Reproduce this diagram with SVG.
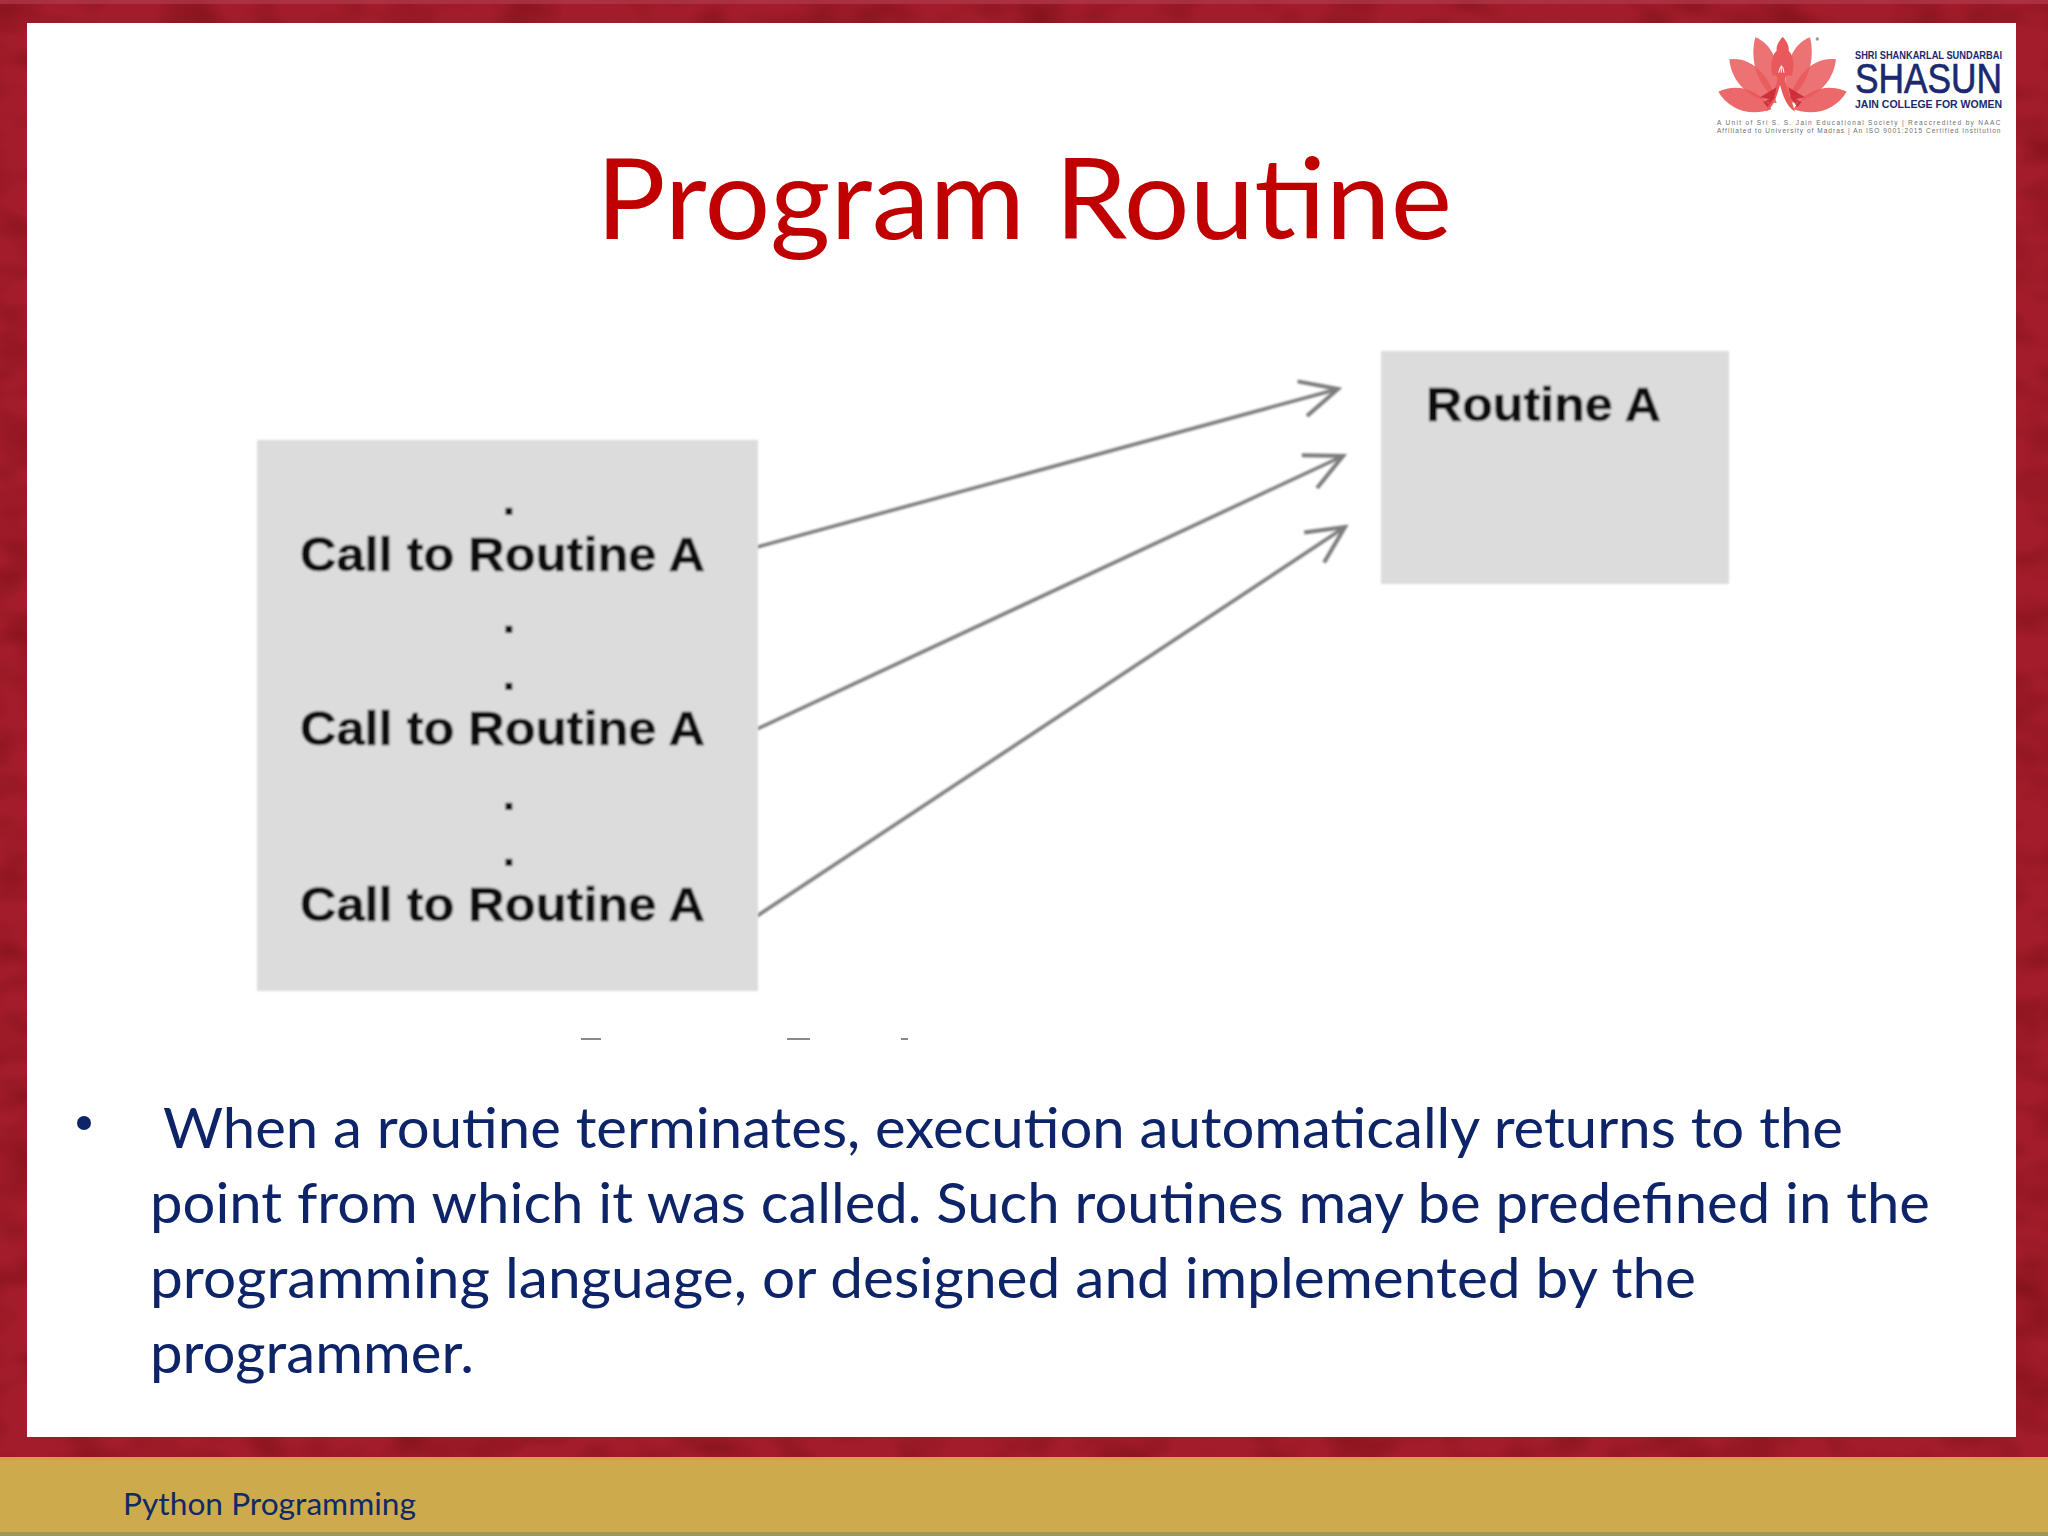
<svg xmlns="http://www.w3.org/2000/svg" width="2048" height="1536" viewBox="0 0 2048 1536">
<defs>
<filter id="mottle" x="0" y="0" width="100%" height="100%" color-interpolation-filters="sRGB">
<feTurbulence type="fractalNoise" baseFrequency="0.018 0.03" numOctaves="2" seed="4"/>
<feColorMatrix values="0 0 0 0 0.5  0 0 0 0 0.07  0 0 0 0 0.1  1.8 0 0 0 -0.75"/>
<feComposite in2="SourceGraphic" operator="in" result="n"/>
<feMerge><feMergeNode in="SourceGraphic"/><feMergeNode in="n"/></feMerge>
</filter>
<filter id="soft" x="-5%" y="-5%" width="110%" height="110%"><feGaussianBlur stdDeviation="0.8"/></filter>
<marker id="head" viewBox="0 0 44 44" refX="40" refY="22" markerWidth="44" markerHeight="44" markerUnits="userSpaceOnUse" orient="auto">
<path d="M3 4 L40 22 L3 40" fill="none" stroke="#7c7c7c" stroke-width="4"/>
</marker>
</defs>
<style>
.cap{font-family:"Liberation Sans",Arial,sans-serif;font-weight:700;font-size:48px;fill:#0c0c0c;stroke:#0c0c0c;stroke-width:.6px}
.dot{font-family:"Liberation Sans",Arial,sans-serif;font-weight:700;font-size:48px;fill:#0c0c0c;text-anchor:middle}
.body{font-family:Lato,"Noto Sans",sans-serif;font-size:57px;fill:#0e2468}
.box{fill:#dcdcdc}
.conn{fill:none;stroke:#7c7c7c;stroke-width:3.5;marker-end:url(#head)}
.navy{font-family:"Liberation Sans",Arial,sans-serif;font-weight:700;fill:#1b2a6e}
.fine{font-family:"Liberation Sans",Arial,sans-serif;font-size:6.5px;fill:#6e6e6e;letter-spacing:.6px}
</style>

<g id="slide-frame">
<path filter="url(#mottle)" fill="#a31c2b" fill-rule="evenodd" d="M0 0H2048V1460H0Z M27 23V1437H2016V23Z"/>
<rect x="0" y="0" width="2048" height="4" fill="#b24052" opacity=".6"/>
<rect x="27" y="23" width="1989" height="1414" fill="#ffffff"/>
<rect x="0" y="1457" width="2048" height="4" fill="#e09850"/>
<rect x="0" y="1460" width="2048" height="73" fill="#cdaa4c"/>
<rect x="0" y="1532" width="2048" height="4" fill="#a2955a"/>
</g>

<g id="logo">
<g transform="translate(1680 0) scale(.3333)">
<g fill="#e9595b">
<path d="M115 275 C165 250 235 262 275 328 C205 352 145 325 115 275Z" opacity=".9"/>
<path d="M500 275 C450 250 380 262 340 328 C410 352 470 325 500 275Z" opacity=".9"/>
<path d="M148 178 C215 170 270 225 290 310 C210 300 155 250 148 178Z" opacity=".85"/>
<path d="M468 178 C400 170 345 225 325 310 C405 300 460 250 468 178Z" opacity=".85"/>
<path d="M226 112 C275 130 298 190 298 250 L285 295 C232 255 208 180 226 112Z" opacity=".85"/>
<path d="M390 112 C340 130 317 190 317 250 L330 295 C383 255 407 180 390 112Z" opacity=".85"/>
<path d="M308 110 C322 125 328 140 326 152 C340 165 345 200 335 228 C322 222 312 228 318 250 L345 335 C320 320 310 290 300 255 C290 290 280 322 258 335 L290 250 C296 228 288 222 278 228 C270 200 275 165 290 152 C288 140 295 125 308 110Z"/>
</g>
<path d="M240 292 L290 262 L280 300Z M375 292 L325 262 L335 300Z M250 305 L285 290 L262 322Z M365 305 L330 290 L352 322Z" fill="#c8202c" opacity=".8"/>
<path d="M296 218 L302 200 M304 218 L304 196 M312 218 L308 200" stroke="#ffffff" stroke-width="3" fill="none"/>
<circle cx="412" cy="117" r="5" fill="#9a9a9a"/>
</g>
<text class="navy" x="1855" y="59" font-size="11" textLength="147" lengthAdjust="spacingAndGlyphs">SHRI SHANKARLAL SUNDARBAI</text>
<text class="navy" x="1855" y="93" font-size="42" textLength="147" lengthAdjust="spacingAndGlyphs" stroke="#1b2a6e" stroke-width=".7" style="font-weight:400">SHASUN</text>
<text class="navy" x="1855" y="108" font-size="11" textLength="147" lengthAdjust="spacingAndGlyphs">JAIN COLLEGE FOR WOMEN</text>
<text class="fine" x="1717" y="125" textLength="284">A Unit of Sri S. S. Jain Educational Society | Reaccredited by NAAC</text>
<text class="fine" x="1717" y="133" textLength="284">Affiliated to University of Madras  | An ISO 9001:2015 Certified Institution</text>
</g>

<text id="title" x="596" y="239" font-family="Lato,'Noto Sans',sans-serif" font-size="112" fill="#c00000" textLength="856" lengthAdjust="spacingAndGlyphs">Program Routine</text>

<g id="connectors" filter="url(#soft)">
<line class="conn" x1="757" y1="547" x2="1338" y2="389"/>
<line class="conn" x1="757" y1="729" x2="1343" y2="456"/>
<line class="conn" x1="757" y1="916" x2="1345" y2="527"/>
</g>

<g id="caller" filter="url(#soft)">
<rect class="box" x="257" y="440" width="501" height="551"/>
<text class="dot" x="509" y="515">.</text>
<text class="cap" x="300" y="571" textLength="405" lengthAdjust="spacingAndGlyphs">Call to Routine A</text>
<text class="dot" x="509" y="633">.</text>
<text class="dot" x="509" y="690">.</text>
<text class="cap" x="300" y="745" textLength="405" lengthAdjust="spacingAndGlyphs">Call to Routine A</text>
<text class="dot" x="509" y="810">.</text>
<text class="dot" x="509" y="866">.</text>
<text class="cap" x="300" y="921" textLength="405" lengthAdjust="spacingAndGlyphs">Call to Routine A</text>
</g>

<g id="routine-a" filter="url(#soft)">
<rect class="box" x="1381" y="351" width="348" height="233"/>
<text class="cap" x="1426" y="421" textLength="235" lengthAdjust="spacingAndGlyphs">Routine A</text>
</g>

<g id="crop-marks" fill="#8a8a8a">
<rect x="581" y="1038" width="20" height="2"/>
<rect x="787" y="1038" width="23" height="2"/>
<rect x="901" y="1038" width="7" height="2"/>
</g>

<g id="bullet-text">
<circle cx="84" cy="1123" r="7" fill="#0e2468"/>
<text class="body" x="163" y="1148" textLength="1680" lengthAdjust="spacingAndGlyphs">When a routine terminates, execution automatically returns to the</text>
<text class="body" x="150" y="1223" textLength="1780" lengthAdjust="spacingAndGlyphs">point from which it was called. Such routines may be predefined in the</text>
<text class="body" x="150" y="1298" textLength="1546" lengthAdjust="spacingAndGlyphs">programming language, or designed and implemented by the</text>
<text class="body" x="150" y="1373" textLength="324" lengthAdjust="spacingAndGlyphs">programmer.</text>
</g>

<text id="footer" x="123" y="1515" font-family="Lato,'Noto Sans',sans-serif" font-size="31" fill="#0f2b66" textLength="293" lengthAdjust="spacingAndGlyphs">Python Programming</text>
</svg>
